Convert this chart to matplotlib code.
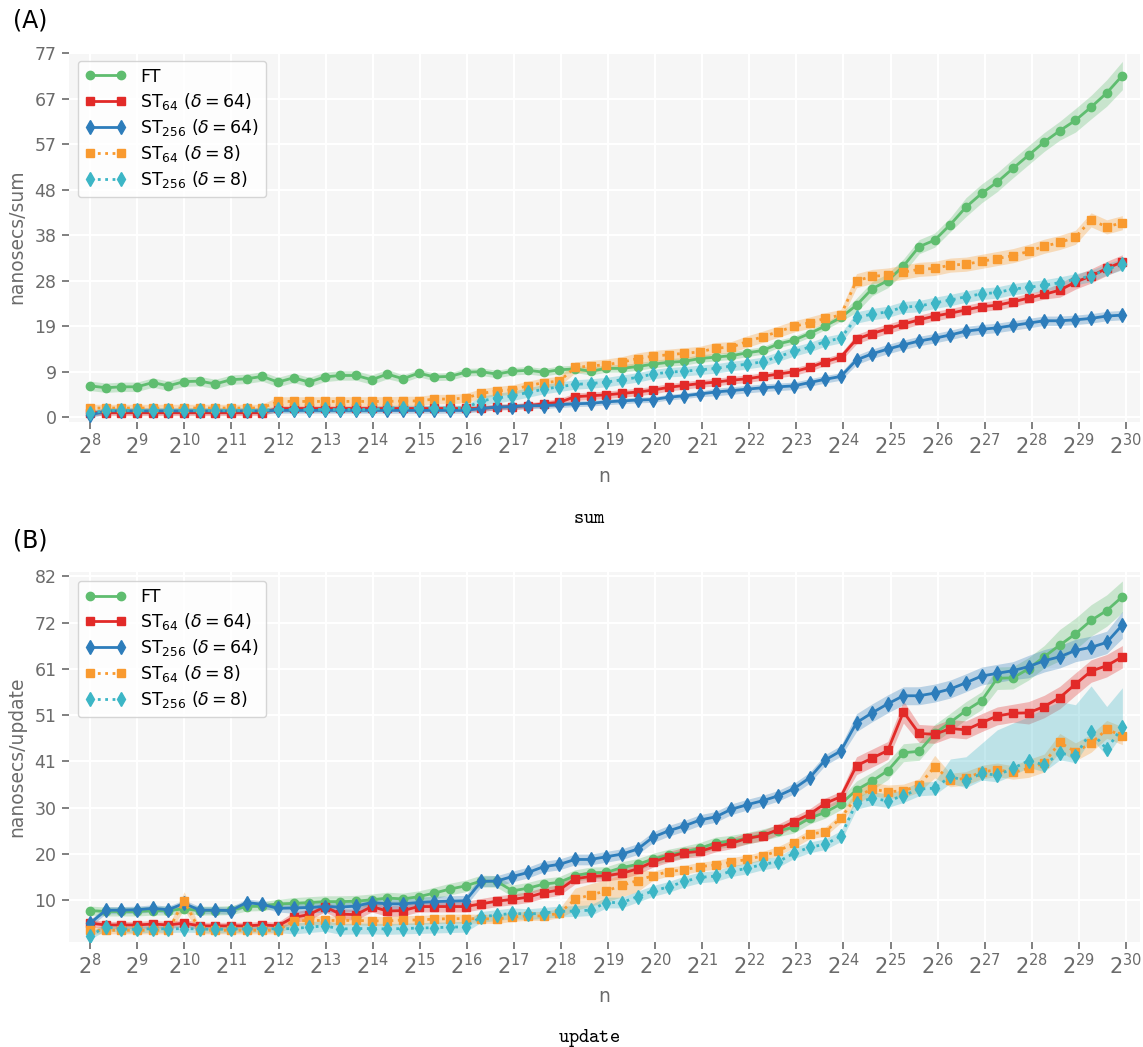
import numpy as np
import matplotlib
matplotlib.use('Agg')
import matplotlib.pyplot as plt
from matplotlib.ticker import LogFormatterMathtext, NullLocator, FixedLocator, FixedFormatter

# ── Data ──────────────────────────────────────────────────────────────────────

# input sizes: ten per decade, starting at 2^8
N_POINTS = 67
n_sizes = 2 ** 8 * 10 ** (np.arange(N_POINTS) / 10)

LABELS = [
    'FT',
    r'ST$_{64}$ ($\delta = 64$)',
    r'ST$_{256}$ ($\delta = 64$)',
    r'ST$_{64}$ ($\delta = 8$)',
    r'ST$_{256}$ ($\delta = 8$)',
]

# (A) sum -- nanosecs/sum
ft_sum = [6.7, 6.3, 6.5, 6.5, 7.4, 6.7, 7.6, 7.7, 7.1, 8.0, 8.2, 8.7, 7.5, 8.4, 7.5, 8.6, 8.9, 8.9, 8.0,
          9.2, 8.2, 9.4, 8.6, 8.7, 9.6, 9.7, 9.2, 9.8, 10.0, 9.6, 10.1, 10.3, 9.8, 10.4, 10.4, 10.8,
          11.3, 11.7, 11.9, 12.5, 12.8, 13.1, 13.7, 14.2,
          15.6, 16.4, 17.8, 19.4, 21.2, 23.8, 27.3, 29.0, 32.1, 36.2, 37.6, 40.9, 44.6, 47.5, 49.9,
          52.8, 55.6, 58.4, 60.8, 63.0, 65.8, 68.8, 72.5]
st64_d64_sum = [1.0] * 12 + [1.9] * 13 + [
          1.9, 2.2, 2.3, 2.5, 2.9, 3.2, 4.4, 4.6, 4.8, 5.1, 5.4, 5.8, 6.4, 6.8, 7.2, 7.5, 7.9, 8.2, 8.7, 9.2,
          9.7, 10.6, 11.8, 12.8, 16.6, 17.8, 18.8, 19.8, 20.7, 21.5, 22.1, 22.8, 23.5, 23.8, 24.5, 25.3,
          26.1, 27.0, 28.7, 30.0, 31.6, 33.0]
st256_d64_sum = [0.5] + [1.4] * 11 + [1.5] * 13 + [
          1.9, 2.2, 2.3, 2.5, 2.5, 2.7, 2.9, 3.0, 3.3, 3.5, 3.7, 3.8, 4.3, 4.6, 5.0, 5.4, 5.7, 6.0, 6.3, 6.5,
          6.7, 7.4, 8.1, 8.7, 12.2, 13.5, 14.5, 15.4, 16.2, 16.8, 17.5, 18.3, 18.7, 19.0, 19.5, 20.0,
          20.5, 20.5, 20.7, 21.0, 21.5, 21.7]
st64_d8_sum = [2.0] * 12 + [3.4] * 7 + [
          3.4, 3.5, 3.5, 3.9, 3.9, 4.1, 5.1, 5.6, 5.9, 6.7, 7.4, 7.7, 10.6, 10.9, 11.2, 11.7, 12.5, 13.0,
          13.3, 13.6, 13.9, 14.7, 14.9, 16.1, 17.1, 18.2,
          19.3, 20.1, 21.0, 21.7, 29.0, 29.9, 30.2, 30.8, 31.4, 31.6, 32.3, 32.5, 33.1, 33.7, 34.3, 35.2,
          36.3, 37.1, 38.2, 41.9, 40.4, 41.3]
st256_d8_sum = [0.9] + [1.5] * 11 + [1.7] * 7 + [2.0] * 6 + [
          3.5, 4.1, 4.6, 5.3, 6.0, 6.5, 7.0, 7.2, 7.5, 8.0, 8.5, 9.2, 9.6, 9.8, 10.1, 10.4, 10.9, 11.3,
          11.8, 12.9,
          14.0, 14.9, 16.1, 16.8, 21.2, 21.9, 22.4, 23.4, 23.6, 24.3, 24.9, 25.6, 26.2, 26.5, 27.2, 27.6,
          28.0, 28.6, 29.3, 30.0, 31.4, 32.5]

# band half-widths (sum)
ft_sum_err = [1.0] * 20 + [0.8] * 29 + [1.5] * 7 + [2.0] * 7 + [2.5, 2.5, 2.8, 3.0]
st64_d64_sum_err = [0.6] * 30 + [0.8] * 19 + [1.0] * 13 + [1.5] * 5
st256_d64_sum_err = [0.6] * 40 + [0.8] * 9 + [1.0] * 18
st64_d8_sum_err = [0.8] * 12 + [1.0] * 19 + [1.2] * 18 + [1.5] * 18
st256_d8_sum_err = [0.6] * 25 + [1.0] * 24 + [1.2] * 18

# (B) update -- nanosecs/update
ft_upd = [8.0, 7.8, 7.8, 7.8, 8.0, 8.0, 8.4, 8.0, 8.0, 8.1, 8.9, 9.0, 9.5, 9.6, 9.8, 10.0, 10.0, 10.1, 10.4,
          10.8, 10.6, 11.1, 11.9, 12.8, 13.5, 14.6, 14.5, 12.4, 13.0, 13.9, 14.3, 15.8, 16.4, 16.5, 17.6,
          18.3, 19.5, 20.4, 21.1, 21.9, 23.1, 23.5, 24.1, 24.9,
          25.8, 26.6, 28.6, 29.9, 31.8, 34.9, 36.9, 39.2, 43.2, 43.5, 47.5, 50.0, 52.6, 54.8, 59.8, 59.9,
          61.9, 64.6, 67.2, 69.7, 72.7, 74.9, 78.0]
st64_d64_upd = [5.2, 4.8, 4.8, 4.8, 5.0, 4.8, 5.2, 4.6, 4.6, 4.6, 4.6, 4.8, 4.6, 6.5, 7.1, 8.9, 7.2, 7.1, 8.9,
          7.9, 8.0, 8.9, 8.9, 8.9, 8.9, 9.5, 10.1, 10.5, 11.0, 12.0, 12.6, 15.1, 15.6, 15.8, 16.3, 17.3,
          18.9, 20.0, 20.9, 21.2, 22.3, 23.0, 24.1, 24.7,
          26.1, 27.8, 29.5, 31.9, 33.4, 40.3, 42.0, 43.7, 52.3, 47.5, 47.3, 48.6, 48.3, 49.9, 51.4, 52.0,
          52.1, 53.5, 55.5, 58.5, 61.4, 62.6, 64.6]
st256_d64_upd = [5.2, 8.1, 8.1, 8.2, 8.5, 8.2, 9.6, 8.1, 8.1, 8.0, 9.8, 9.4, 8.5, 8.6, 8.7, 8.9, 8.8, 9.0, 9.8,
          9.5, 9.5, 9.8, 10.0, 10.1, 10.2, 14.5, 14.6, 15.6, 16.5, 17.8, 18.3, 19.4, 19.4, 20.0, 20.6, 21.7,
          24.4, 25.8, 26.9, 28.2, 28.9, 30.6, 31.6, 32.5,
          33.6, 35.2, 37.6, 41.6, 43.6, 49.9, 52.1, 54.1, 55.9, 55.9, 56.5, 57.4, 58.8, 60.3, 60.9, 61.5,
          62.4, 63.7, 64.6, 66.0, 66.7, 67.8, 71.7]
st64_d8_upd = [3.6, 3.6, 3.6, 3.6, 3.6, 3.6, 10.2, 3.6, 3.6, 3.6, 3.6, 3.6, 3.6, 5.7, 5.8, 5.8, 5.8, 5.8, 5.7,
          5.7, 5.9, 5.9, 6.1, 6.2, 6.2, 6.2, 6.1, 6.6, 6.8, 6.8, 7.4, 10.5, 11.5, 12.4, 13.6, 14.7, 15.8,
          16.7, 17.1, 17.8, 18.2, 18.8, 19.4, 20.2,
          21.3, 23.0, 25.0, 25.6, 28.6, 33.4, 35.1, 34.5, 34.7, 35.9, 40.1, 37.1, 37.5, 38.9, 39.4, 38.8,
          39.7, 40.9, 45.5, 43.4, 45.3, 48.4, 47.0]
st256_d8_upd = [2.4, 4.4, 3.9, 3.8, 4.0, 3.9, 4.0, 3.9, 3.8, 3.9, 3.9, 4.0, 3.9, 4.0, 4.3, 4.6, 3.9, 4.0, 4.0,
          3.9, 4.0, 4.1, 4.2, 4.3, 4.4, 6.6, 7.0, 7.4, 7.2, 7.5, 7.8, 7.9, 8.1, 9.8, 9.8, 11.1, 12.4, 13.3,
          14.5, 15.4, 15.7, 16.8, 17.4, 18.3,
          18.9, 20.8, 22.1, 22.8, 24.6, 32.1, 33.0, 32.5, 33.6, 35.1, 35.3, 37.9, 36.9, 38.6, 38.2, 39.7,
          41.4, 40.5, 43.1, 42.5, 47.9, 44.0, 48.9]

# band half-widths (update); the last series has a wider upper band
ft_upd_err = [1.0] * 13 + [1.3] * 36 + [2.0] * 9 + [2.5] * 4 + [3.5] * 5
st64_d64_upd_err = [0.8] * 13 + [1.2] * 36 + [2.0] * 3 + [2.5] + [2.0] * 7 + [2.5] * 7
st256_d64_upd_err = [0.8] * 13 + [1.2] * 36 + [2.0] * 11 + [2.5] * 6 + [3.0]
st64_d8_upd_err = [0.8] * 6 + [2.0] + [0.8] * 6 + [1.0] * 18 + [2.5] * 5 + [1.0] * 13 + [1.5] * 5 + [2.5] \
    + [1.5] * 5 + [2.0] * 7
st256_d8_upd_lo = [0.8] * 13 + [1.2] * 36 + [1.5] * 18
st256_d8_upd_hi = [0.8] * 13 + [1.2] * 36 + [1.5] * 6 + [3.9, 5.4, 6.7, 10.1, 10.1, 9.8, 12.6, 11.5,
                                                         11.4, 10.2, 9.5, 8.8]

COLORS = ['#5fbd6f', '#e22a28', '#2d7dbb', '#f99a2f', '#3cb6c6']
MARKERS = ['o', 's', 'd', 's', 'd']
MSIZES = [6, 5.5, 7.5, 5.5, 7.5]
LSTYLES = ['-', '-', '-', ':', ':']

# ── Style ─────────────────────────────────────────────────────────────────────

TXT = '#6b6b6b'
plt.rcParams.update({
    'axes.facecolor': '#f6f6f6',
    'axes.edgecolor': 'none',
    'axes.grid': True,
    'grid.color': 'white',
    'grid.linewidth': 1.6,
    'axes.axisbelow': True,
    'xtick.color': TXT,
    'ytick.color': TXT,
    'xtick.major.size': 5,
    'ytick.major.size': 5,
    'xtick.major.width': 1.2,
    'ytick.major.width': 1.2,
    'axes.labelcolor': TXT,
})


def draw_panel(ax, means, lows, highs, ylabel, ytop, ylim):
    for i in range(5):
        m = np.array(means[i])
        ax.fill_between(n_sizes, m - np.array(lows[i]), m + np.array(highs[i]),
                        color=COLORS[i], alpha=0.3, lw=0)
    for i in range(5):
        ax.plot(n_sizes, means[i], color=COLORS[i], marker=MARKERS[i], ms=MSIZES[i],
                ls=LSTYLES[i], lw=2, label=LABELS[i])

    ax.set_xscale('log', base=2)
    ax.xaxis.set_major_locator(FixedLocator([2.0 ** e for e in range(8, 31)]))
    ax.xaxis.set_major_formatter(LogFormatterMathtext(base=2))
    ax.xaxis.set_minor_locator(NullLocator())
    ax.set_xlim(2 ** 7.55, 2 ** 30.3)

    yt = np.linspace(0, ytop, 9)
    ax.yaxis.set_major_locator(FixedLocator(yt))
    ax.yaxis.set_major_formatter(FixedFormatter([str(int(v)) for v in yt]))
    ax.set_ylim(*ylim)

    ax.tick_params(axis='x', labelsize=15, pad=3)
    ax.tick_params(axis='y', labelsize=12.5, pad=4)
    ax.set_xlabel('n', fontsize=13.5, labelpad=6)
    ax.set_ylabel(ylabel, fontsize=13.5, labelpad=6)

    ax.legend(loc='upper left', numpoints=2, fontsize=12.5, handlelength=2.4,
              frameon=True, facecolor='white', edgecolor='#cccccc', framealpha=0.8,
              borderpad=0.4, labelspacing=0.3, bbox_to_anchor=(0.0, 1.0))


fig = plt.figure(figsize=(11.43, 10.47), dpi=100)
ax_a = fig.add_axes([0.0604, 0.597, 0.937, 0.3534])
ax_b = fig.add_axes([0.0604, 0.1003, 0.937, 0.3534])

draw_panel(ax_a,
           [ft_sum, st64_d64_sum, st256_d64_sum, st64_d8_sum, st256_d8_sum],
           [ft_sum_err, st64_d64_sum_err, st256_d64_sum_err, st64_d8_sum_err, st256_d8_sum_err],
           [ft_sum_err, st64_d64_sum_err, st256_d64_sum_err, st64_d8_sum_err, st256_d8_sum_err],
           'nanosecs/sum', 77.2, (-0.95, 77.5))
draw_panel(ax_b,
           [ft_upd, st64_d64_upd, st256_d64_upd, st64_d8_upd, st256_d8_upd],
           [ft_upd_err, st64_d64_upd_err, st256_d64_upd_err, st64_d8_upd_err, st256_d8_upd_lo],
           [ft_upd_err, st64_d64_upd_err, st256_d64_upd_err, st64_d8_upd_err, st256_d8_upd_hi],
           'nanosecs/update', 82.5, (1.0, 83.5))

fig.text(0.011, 0.992, '(A)', fontsize=17, va='top', ha='left')
fig.text(0.011, 0.495, '(B)', fontsize=17, va='top', ha='left')
fig.text(0.5155, 0.506, r'$\mathtt{sum}$', fontsize=14, ha='center', va='center', math_fontfamily='cm')
fig.text(0.5155, 0.009, r'$\mathtt{update}$', fontsize=14, ha='center', va='center', math_fontfamily='cm')

fig.savefig('out.png', dpi=100)
plt.close(fig)
